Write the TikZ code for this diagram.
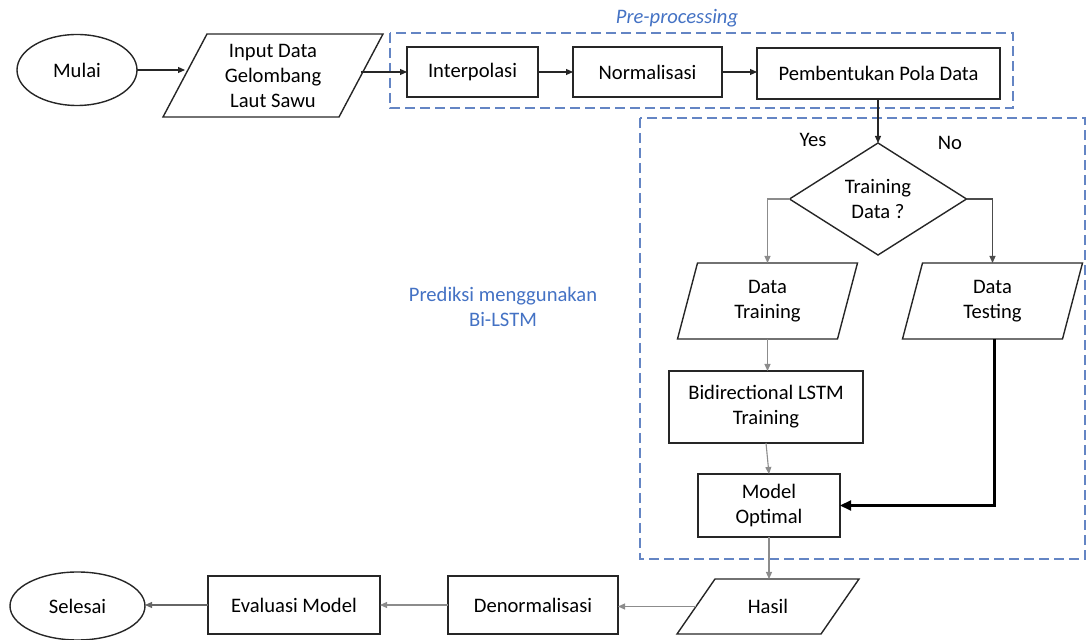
\documentclass[tikz,border=0pt]{standalone}
\usepackage{fontspec}
\setmainfont{Carlito}
\usetikzlibrary{shapes.geometric,arrows.meta,calc}
\definecolor{dashblue}{RGB}{100,133,196}
\definecolor{labelblue}{RGB}{68,114,196}

% outline of a data (input/output) parallelogram around a text node;
% #1 = node name, #2 = half of the horizontal slant
\newcommand\slantframe[2]{%
  \draw[shapeline]
    ($(#1.north west)+(#2,0)$) -- ($(#1.north east)+(#2,0)$) --
    ($(#1.south east)-(#2,0)$) -- ($(#1.south west)-(#2,0)$) -- cycle;}

\begin{document}
\begin{tikzpicture}[x=0.5pt,y=-0.5pt,
  every node/.style={font=\fontsize{10.3}{12.5}\selectfont, inner sep=0pt, outer sep=0pt},
  shapeline/.style={draw=black!85, line width=0.7pt},
  box/.style={shapeline, rectangle, align=center},
  term/.style={shapeline, ellipse},
  iobox/.style={rectangle, align=center},
  decision/.style={shapeline, diamond, align=center,
    minimum width=88.5pt, minimum height=56pt},
  arr/.style={line width=0.55pt, draw=black!85, -{Triangle[length=3.5pt,width=3pt]}},
  arrlight/.style={arr, draw=black!45},
  arrbold/.style={line width=1.1pt, draw=black, -{Triangle[length=5.5pt,width=5pt]}},
  region/.style={draw=dashblue, line width=0.7pt, dash pattern=on 5pt off 2.5pt},
  note/.style={text=labelblue, align=center}
]
\useasboundingbox (0,0) rectangle (1087,640);

% grouping regions
\draw[region] (390,33) rectangle (1013,108);
\draw[region] (640,118) rectangle (1085,559);
\node[note, font=\fontsize{10.3}{12.5}\selectfont\itshape] (lblpre) at (677,18) {Pre-processing};
\node[note] (lblpred) at (503,307) {Prediksi menggunakan\\Bi-LSTM};

% top row
\node[term, minimum width=60pt, minimum height=35.5pt] (mulai) at (77,70) {Mulai};
\node[iobox, minimum width=88pt, minimum height=41.5pt] (input) at (273,75.5) {Input Data\\Gelombang\\Laut Sawu};
\slantframe{input}{22}
\node[box, minimum width=65.5pt, minimum height=25pt] (interp) at (472.5,72) {Interpolasi};
\node[box, minimum width=74.5pt, minimum height=25pt] (norm) at (647.5,72) {Normalisasi};
\node[box, minimum width=121.5pt, minimum height=25.5pt] (pola) at (878.5,73.5) {Pembentukan Pola Data};

% prediction block
\node[decision] (dec) at (878,199) {Training\\Data ?};
\node (yes) at (813,140) {Yes};
\node (no) at (950,143) {No};
\node[iobox, minimum width=80pt, minimum height=38pt] (dtrain) at (767.5,301) {Data\\Training};
\slantframe{dtrain}{10}
\node[iobox, minimum width=80pt, minimum height=38pt] (dtest) at (992.5,301) {Data\\Testing};
\slantframe{dtest}{10}
\node[box, minimum width=97pt, minimum height=36pt] (bilstm) at (766,407) {Bidirectional LSTM\\Training};
\node[box, minimum width=71pt, minimum height=31.5pt] (model) at (769,505.5) {Model\\Optimal};

% bottom row
\node[iobox, minimum width=72pt, minimum height=27.5pt] (hasil) at (768,606.5) {Hasil};
\slantframe{hasil}{19}
\node[box, minimum width=85pt, minimum height=29pt] (denorm) at (533,605) {Denormalisasi};
\node[box, minimum width=86pt, minimum height=29pt] (eval) at (294,605) {Evaluasi Model};
\node[term, minimum width=67.5pt, minimum height=34pt] (selesai) at (77.5,606) {Selesai};

% connectors
\draw[arr] (mulai.east) -- (mulai.east -| input.west);
\draw[arr] (input.east |- interp.west) -- (interp.west);
\draw[arr] (interp.east) -- (norm.west);
\draw[arr] (norm.east) -- (norm.east -| pola.west);
\draw[arr] (pola.south -| dec.north) -- (dec.north);
\draw[arrlight] (dec.west) -| (dtrain.north);
\draw[arr, draw=black!70] (dec.east) -| (dtest.north);
\draw[arrlight] (dtrain.south) -- (dtrain.south |- bilstm.north);
\draw[arrlight] (bilstm.south) -- (model.north);
\draw[arrbold] ($(dtest.south)+(2,0)$) |- (model.east);
\draw[arrlight] (model.south) -- (model.south |- hasil.north);
\draw[arrlight] (hasil.west) -- (hasil.west -| denorm.east);
\draw[arrlight] (denorm.west) -- (eval.east);
\draw[arr, draw=black!60] (eval.west) -- (eval.west -| selesai.east);
\end{tikzpicture}
\end{document}
